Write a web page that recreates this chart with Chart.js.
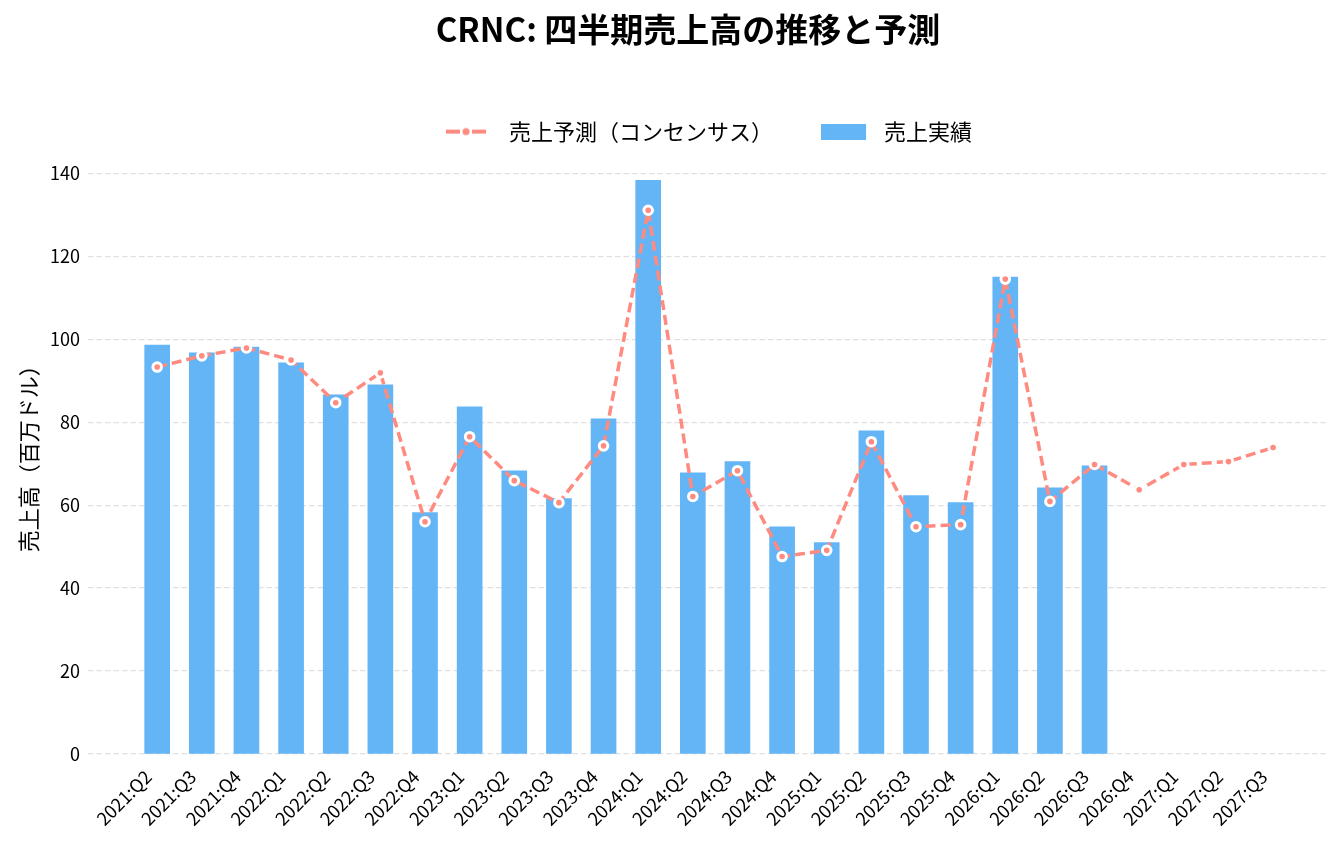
<!DOCTYPE html>
<html lang="ja">
<head>
<meta charset="utf-8">
<title>CRNC 四半期売上高</title>
<script src="https://cdn.jsdelivr.net/npm/chart.js@4.4.1/dist/chart.umd.min.js"></script>
<style>
  html, body { margin: 0; padding: 0; background: #ffffff; }
  #wrap { width: 1344px; height: 846px; }
</style>
</head>
<body>
<div id="wrap"><canvas id="salesChart"></canvas></div>
<script>
// 四半期ラベル
const quarters = [
    '2021:Q2', '2021:Q3', '2021:Q4',
    '2022:Q1', '2022:Q2', '2022:Q3', '2022:Q4',
    '2023:Q1', '2023:Q2', '2023:Q3', '2023:Q4',
    '2024:Q1', '2024:Q2', '2024:Q3', '2024:Q4',
    '2025:Q1', '2025:Q2', '2025:Q3', '2025:Q4',
    '2026:Q1', '2026:Q2', '2026:Q3', '2026:Q4',
    '2027:Q1', '2027:Q2', '2027:Q3'
];

// 売上実績（百万ドル） 2021:Q2〜2026:Q3
const actualSales = [
    98.6, 96.7, 98.1,
    94.3, 86.6, 89.0, 58.2,
    83.7, 68.3, 61.6, 80.8,
    138.3, 67.8, 70.5, 54.8,
    51.0, 77.9, 62.3, 60.6,
    115.0, 64.2, 69.5
];

// 売上予測（コンセンサス） 2021:Q2〜2027:Q3
const consensus = [
    93.3, 96.0, 97.9,
    95.0, 84.7, 91.9, 56.0,
    76.5, 65.9, 60.6, 74.3,
    131.1, 62.1, 68.3, 47.6,
    49.1, 75.3, 54.8, 55.3,
    114.5, 60.9, 69.8, 63.7,
    69.8, 70.5, 73.9
];

const yTicks = [0, 20, 40, 60, 80, 100, 120, 140];

const SALMON = '#ff8a80';
const BLUE = '#64b5f6';
const FONT = '"Noto Sans CJK JP", "Noto Sans", sans-serif';

// 凡例用アイコン（破線＋点）
function makeLineIcon() {
    const c = document.createElement('canvas');
    c.width = 52; c.height = 12;
    const g = c.getContext('2d');
    g.fillStyle = SALMON;
    g.fillRect(0, 4, 14, 4);
    g.fillRect(26, 4, 14, 4);
    g.beginPath();
    g.arc(20, 6, 3.5, 0, Math.PI * 2);
    g.fill();
    return c;
}
function makeBarIcon() {
    const c = document.createElement('canvas');
    c.width = 52; c.height = 16;
    const g = c.getContext('2d');
    g.fillStyle = BLUE;
    g.fillRect(0, 0, 45, 16);
    return c;
}

const lineIcon = makeLineIcon();
const barIcon = makeBarIcon();

const ctx = document.getElementById('salesChart').getContext('2d');

new Chart(ctx, {
    data: {
        datasets: [
            {
                type: 'line',
                label: '売上予測（コンセンサス）',
                data: consensus.map((v, i) => ({ x: i, y: v })),
                borderColor: SALMON,
                borderWidth: 3.5,
                borderDash: [10, 5],
                pointRadius: 4.3,
                pointBorderWidth: 3,
                pointBackgroundColor: SALMON,
                pointBorderColor: '#ffffff',
                pointHoverRadius: 5,
                tension: 0,
                fill: false,
                order: 0
            },
            {
                type: 'bar',
                label: '売上実績',
                data: actualSales.map((v, i) => ({ x: i, y: v })),
                backgroundColor: BLUE,
                borderWidth: 0,
                barThickness: 25,
                order: 1
            }
        ]
    },
    options: {
        responsive: true,
        maintainAspectRatio: false,
        animation: false,
        layout: { padding: { left: 0, right: 16, top: 0, bottom: 0 } },
        plugins: {
            title: {
                display: true,
                text: 'CRNC: 四半期売上高の推移と予測',
                color: '#000000',
                font: { family: FONT, size: 33, weight: 'bold' },
                padding: { top: 10, bottom: 23 }
            },
            legend: {
                position: 'top',
                labels: {
                    usePointStyle: true,
                    pointStyleWidth: 52,
                    color: '#000000',
                    font: { family: FONT, size: 22 },
                    padding: 48,
                    generateLabels(chart) {
                        return chart.data.datasets.map((ds, i) => ({
                            text: ds.label,
                            pointStyle: i === 0 ? lineIcon : barIcon,
                            datasetIndex: i,
                            hidden: !chart.isDatasetVisible(i),
                            fontColor: '#000000',
                            lineWidth: 0
                        }));
                    }
                }
            },
            tooltip: { enabled: false }
        },
        scales: {
            x: {
                type: 'linear',
                offset: false,
                min: -1.55,
                max: 26.23,
                grid: { display: false },
                border: { display: false },
                afterBuildTicks(scale) {
                    scale.ticks = quarters.map((q, i) => ({ value: i }));
                },
                afterFit(scale) {
                    scale.height = 92;
                },
                ticks: {
                    autoSkip: false,
                    maxRotation: 45,
                    minRotation: 45,
                    padding: 4,
                    labelOffset: -9,
                    color: '#000000',
                    font: { family: FONT, size: 18 },
                    callback: (value) => quarters[value]
                }
            },
            y: {
                min: 0,
                max: 145,
                afterBuildTicks(scale) {
                    scale.ticks = yTicks.map(v => ({ value: v }));
                },
                afterFit(scale) {
                    scale.width = 88;
                },
                border: { display: false, dash: [5.5, 3] },
                grid: {
                    color: '#e0e0e0',
                    lineWidth: 1.2,
                    drawTicks: false
                },
                ticks: {
                    padding: 8,
                    color: '#000000',
                    font: { family: FONT, size: 18 }
                },
                title: {
                    display: true,
                    text: '売上高（百万ドル）',
                    color: '#000000',
                    font: { family: FONT, size: 22 },
                    padding: { top: 15, bottom: 0 }
                }
            }
        }
    },
    plugins: [{
        // タイトルと凡例をプロット領域の中央に寄せる
        id: 'shiftHeader',
        afterLayout(chart) {
            if (chart.titleBlock) chart.titleBlock.left = 48;
            if (chart.legend) chart.legend.left = 90;
        }
    }]
});
</script>
</body>
</html>
